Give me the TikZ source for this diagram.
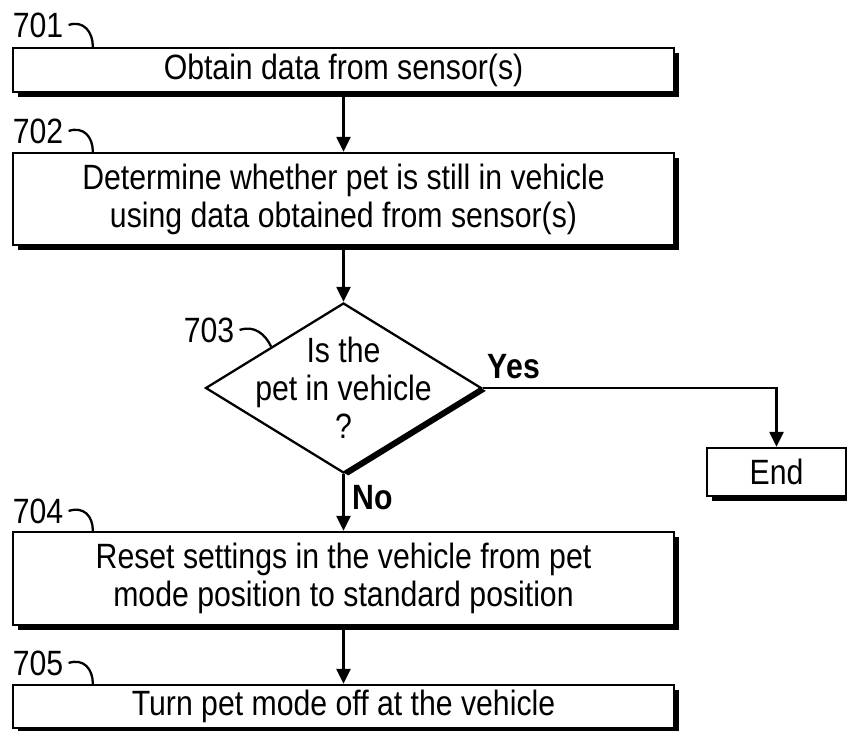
\documentclass[tikz,border=0pt]{standalone}
\usepackage{fontspec}
\setmainfont{Liberation Sans}[FakeStretch=0.86]
\usetikzlibrary{arrows.meta,positioning,calc,shapes.geometric,shadows}

\begin{document}
\begin{tikzpicture}[x=1cm,y=1cm,>={Triangle[length=3mm,width=2.8mm]},
  every node/.style={font=\fontsize{20}{21.6}\selectfont},
  stepbox/.style={draw,line width=1.3pt,fill=white,align=center,inner sep=0pt,
    drop shadow={shadow xshift=0.1cm,shadow yshift=-0.1cm,fill=black,opacity=1}},
  decision/.style={diamond,draw,line width=1.3pt,fill=white,inner sep=0pt,
    minimum width=5.52cm,minimum height=3.40cm,
    drop shadow={shadow xshift=0.095cm,shadow yshift=-0.058cm,fill=black,opacity=1}},
  refnum/.style={inner sep=0pt},
  branch/.style={font=\fontsize{20}{21.6}\selectfont\bfseries,inner sep=0pt},
  flow/.style={->,line width=1.3pt},
  leader/.style={line width=1.3pt}]
\useasboundingbox (0,0) rectangle (16.94,-14.62);
% steps
\node[stepbox,minimum width=13.22cm,minimum height=0.88cm] (s1) at (6.87,-1.40) {Obtain data from sensor(s)};
\node[stepbox,minimum width=13.22cm,minimum height=1.84cm] (s2) at (6.87,-3.98) {Determine whether pet is still in vehicle\\using data obtained from sensor(s)};
\node[decision,label={[align=center]center:Is the\\pet in vehicle\\?}] (dia) at (6.87,-7.76) {};
\node[stepbox,minimum width=2.78cm,minimum height=0.96cm] (end) at (15.53,-9.44) {End};
\node[stepbox,minimum width=13.22cm,minimum height=1.86cm] (s4) at (6.87,-11.57) {Reset settings in the vehicle from pet\\mode position to standard position};
\node[stepbox,minimum width=13.22cm,minimum height=0.86cm] (s5) at (6.87,-14.13) {Turn pet mode off at the vehicle};
% reference numerals
\node[refnum] (n701) at (0.76,-0.50) {701};
\node[refnum] (n702) at (0.76,-2.62) {702};
\node[refnum] (n703) at (4.18,-6.60) {703};
\node[refnum] (n704) at (0.76,-10.22) {704};
\node[refnum] (n705) at (0.76,-13.26) {705};
\draw[leader] ([xshift=1mm]n701.east) .. controls +(0.3,0.1) and +(0,0.3) .. ([xshift=1.62cm]s1.north west);
\draw[leader] ([xshift=1mm]n702.east) .. controls +(0.3,0.1) and +(0,0.3) .. ([xshift=1.62cm]s2.north west);
\draw[leader] ([xshift=1mm]n703.east) .. controls +(0.3,0.1) and +(-0.12,0.25) .. ($(dia.west)!0.48!(dia.north)$);
\draw[leader] ([xshift=1mm]n704.east) .. controls +(0.3,0.1) and +(0,0.3) .. ([xshift=1.62cm]s4.north west);
\draw[leader] ([xshift=1mm]n705.east) .. controls +(0.3,0.1) and +(0,0.3) .. ([xshift=1.62cm]s5.north west);
% flow
\draw[flow] (s1) -- (s2);
\draw[flow] (s2) -- (dia);
\draw[flow] (dia.east) -| (end.north);
\draw[flow] (dia) -- (s4);
\draw[flow] (s4) -- (s5);
\node[branch] (yes) at (10.28,-7.34) {Yes};
\node[branch] (no) at (7.45,-9.95) {No};
\end{tikzpicture}
\end{document}
